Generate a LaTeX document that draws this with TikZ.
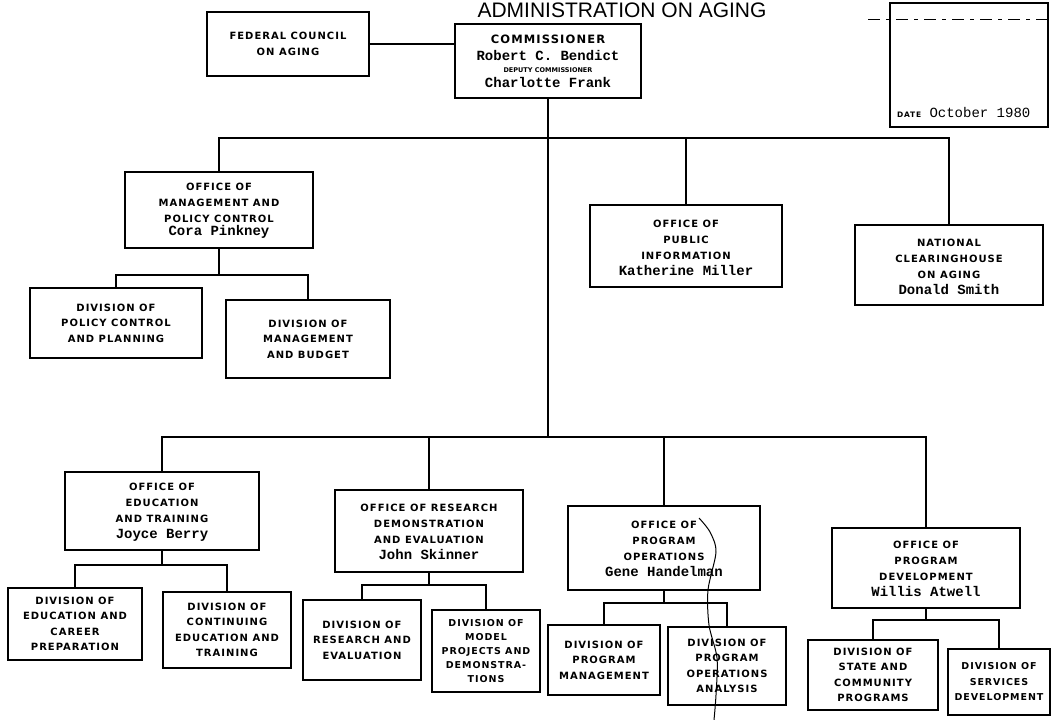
\documentclass[tikz,border=0pt]{standalone}
\usepackage{fontspec}
\setsansfont{DejaVu Sans}
\setmonofont{Liberation Mono}
\newfontfamily\labfont[LetterSpace=10]{DejaVu Sans}
\newfontfamily\titlefont{Liberation Sans}
\newcommand\nm[1]{{\fontsize{14}{14}\selectfont\ttfamily #1}}
\newcommand\topgap[1]{\rule{0pt}{#1}}
\begin{document}
\begin{tikzpicture}[x=1pt,y=1pt,
  box/.style={draw, line width=2pt, align=center, inner sep=1pt,
    font={\labfont\bfseries\fontsize{10}{16}\selectfont}},
  divbox/.style={box, font={\labfont\bfseries\fontsize{10}{15.5}\selectfont}},
  conn/.style={line width=2pt},
  hair/.style={line width=1pt}]
\useasboundingbox (0,0) rectangle (1053,720);

% title
\node[anchor=base, font={\titlefont\fontsize{21}{22}\selectfont}] (title) at (622,702) {ADMINISTRATION ON AGING};

% date box
\node[draw, line width=2pt, minimum width=158pt, minimum height=124pt, inner sep=0pt] (datebox) at (969,655) {};
\node[anchor=south west, inner sep=0pt] (datetxt) at ([xshift=8pt,yshift=10pt]datebox.south west)
  {{\labfont\bfseries\fontsize{7.5}{8}\selectfont DATE}\nm{ October 1980}};
\coordinate (dl) at (868,700);
\coordinate (dr) at (1053,700);
\draw[line width=1pt, dash pattern=on 12pt off 6pt on 4pt off 6pt] (dl) -- (dr);

% top level
\node[box, minimum width=162pt, minimum height=64pt] (fed) at (288,676) {FEDERAL COUNCIL\\ON AGING};
\node[box, minimum width=186pt, minimum height=74pt] (comm) at (548,659)
  {{\labfont\bfseries\fontsize{11.5}{12}\selectfont COMMISSIONER}\\[1pt]
   \nm{Robert C. Bendict}\\[-4pt]
   {\sffamily\bfseries\fontsize{6.5}{8}\selectfont DEPUTY COMMISSIONER}\\[-1pt]
   \nm{Charlotte Frank}};

% second level
\node[box, minimum width=188pt, minimum height=76pt] (mgmt) at (219,510)
  {\topgap{9pt}OFFICE OF\\MANAGEMENT AND\\POLICY CONTROL\\[-3pt]\nm{Cora Pinkney}};
\node[box, minimum width=192pt, minimum height=82pt] (pub) at (686,474)
  {\topgap{12pt}OFFICE OF\\PUBLIC\\INFORMATION\\[0pt]\nm{Katherine Miller}};
\node[box, minimum width=188pt, minimum height=80pt] (nat) at (949,455)
  {\topgap{12pt}NATIONAL\\CLEARINGHOUSE\\ON AGING\\[0pt]\nm{Donald Smith}};
\node[divbox, minimum width=172pt, minimum height=70pt] (dpc) at (116,397)
  {DIVISION OF\\POLICY CONTROL\\AND PLANNING};
\node[divbox, minimum width=164pt, minimum height=78pt] (dmb) at (308,381)
  {DIVISION OF\\MANAGEMENT\\AND BUDGET};

% offices
\node[box, minimum width=194pt, minimum height=78pt] (oet) at (162,209)
  {\topgap{9pt}OFFICE OF\\EDUCATION\\AND TRAINING\\[0pt]\nm{Joyce Berry}};
\node[box, minimum width=188pt, minimum height=82pt] (ord) at (429,189)
  {\topgap{10pt}OFFICE OF RESEARCH\\DEMONSTRATION\\AND EVALUATION\\[0pt]\nm{John Skinner}};
\node[box, minimum width=192pt, minimum height=84pt] (opo) at (664,172)
  {\topgap{10pt}OFFICE OF\\PROGRAM\\OPERATIONS\\[0pt]\nm{Gene Handelman}};
\node[box, minimum width=188pt, minimum height=80pt] (opd) at (926,152)
  {\topgap{9pt}OFFICE OF\\PROGRAM\\DEVELOPMENT\\[0pt]\nm{Willis Atwell}};

% divisions
\node[divbox, minimum width=134pt, minimum height=72pt] (decp) at (75,96)
  {DIVISION OF\\EDUCATION AND\\CAREER\\PREPARATION};
\node[divbox, minimum width=128pt, minimum height=76pt] (dcet) at (227,90)
  {DIVISION OF\\CONTINUING\\EDUCATION AND\\TRAINING};
\node[divbox, minimum width=118pt, minimum height=80pt] (dre) at (362,80)
  {DIVISION OF\\RESEARCH AND\\EVALUATION};
\node[box, font={\labfont\bfseries\fontsize{9.5}{14}\selectfont}, minimum width=108pt, minimum height=82pt] (dmp) at (486,69)
  {DIVISION OF\\MODEL\\PROJECTS AND\\DEMONSTRA-\\TIONS};
\node[divbox, minimum width=112pt, minimum height=70pt] (dpm) at (604,60)
  {DIVISION OF\\PROGRAM\\MANAGEMENT};
\node[divbox, minimum width=118pt, minimum height=78pt] (dpoa) at (727,54)
  {DIVISION OF\\PROGRAM\\OPERATIONS\\ANALYSIS};
\node[divbox, minimum width=130pt, minimum height=70pt] (dscp) at (873,45)
  {DIVISION OF\\STATE AND\\COMMUNITY\\PROGRAMS};
\node[box, font={\labfont\bfseries\fontsize{9.5}{15.5}\selectfont}, minimum width=102pt, minimum height=66pt] (dsd) at (999,38)
  {DIVISION OF\\SERVICES\\DEVELOPMENT};

% junctions
\coordinate (j1) at (548,582);
\coordinate (j2) at (548,283);
\coordinate (m1) at (219,445);
\coordinate (e1) at (162,155);
\coordinate (r1) at (429,135);
\coordinate (p1) at (664,117);
\coordinate (d1) at (926,100);

% connectors
\draw[conn] (fed.east) -- (fed.east -| comm.west);
\draw[conn] (comm.south) -- (j2);
\draw[conn] (mgmt.north) |- (j1) -| (nat.north);
\draw[conn] (pub.north) -- (pub.north |- j1);
\draw[conn] (oet.north) |- (j2) -| (opd.north);
\draw[conn] (ord.north) -- (ord.north |- j2);
\draw[conn] (opo.north) -- (opo.north |- j2);

\draw[conn] (mgmt.south) -- (m1);
\draw[conn] (dpc.north) |- (m1) -| (dmb.north);
\draw[conn] (oet.south) -- (e1);
\draw[conn] (decp.north) |- (e1) -| (dcet.north);
\draw[conn] (ord.south) -- (r1);
\draw[conn] (dre.north) |- (r1) -| (dmp.north);
\draw[conn] (opo.south) -- (p1);
\draw[conn] (dpm.north) |- (p1) -| (dpoa.north);
\draw[conn] (opd.south) -- (d1);
\draw[conn] (dscp.north) |- (d1) -| (dsd.north);

% stray hair on the scan
\draw[hair] plot[smooth] coordinates {(699,202) (710,188) (716,168) (708,130) (709,95) (717,62) (716,25) (714,0)};
\end{tikzpicture}
\end{document}
